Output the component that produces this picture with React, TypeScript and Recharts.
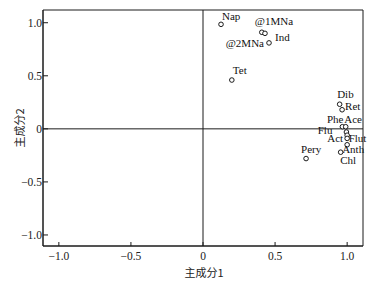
import React from 'react';
import { ScatterChart, Scatter, XAxis, YAxis, ReferenceLine, ReferenceArea, Label } from 'recharts';

// Variable names and loadings on the two principal components
const names = ['Nap', '@1MNa', '@2MNa', 'Ind', 'Tet', 'Dib', 'Ret', 'Phe', 'Ace', 'Flu', 'Act', 'Flut', 'Anth', 'Chl', 'Pery'];
const pc1 = [0.125, 0.408, 0.43, 0.458, 0.2, 0.948, 0.965, 0.967, 0.99, 0.995, 1.0, 1.0, 1.0, 0.955, 0.715];
const pc2 = [0.985, 0.91, 0.9, 0.81, 0.46, 0.232, 0.18, 0.02, 0.02, -0.03, -0.06, -0.09, -0.15, -0.22, -0.28];

// Axis ticks
const xTicks = [-1, -0.5, 0, 0.5, 1];
const yTicks = [-1, -0.5, 0, 0.5, 1];
const xTitle = '主成分1';
const yTitle = '主成分2';

// Label placement (dx, dy, anchor) relative to each point
const labelPlacement: [number, number, string][] = [
  [1, -4, 'start'],
  [-7, -7, 'start'],
  [-1, 14, 'end'],
  [6, -2, 'start'],
  [1, -6, 'start'],
  [-2.5, -6, 'start'],
  [3, 0, 'start'],
  [1, -4, 'end'],
  [-1.5, -4, 'start'],
  [-14, 1.5, 'end'],
  [-4, 7, 'end'],
  [1.5, 3.5, 'start'],
  [-5, 8.5, 'start'],
  [-0.5, 12, 'start'],
  [-5, -6, 'start'],
];

const data = names.map((n, i) => ({ name: n, x: pc1[i], y: pc2[i], idx: i }));

const serif = '"Liberation Serif", "Times New Roman", serif';
const cjk = '"Noto Sans CJK SC", sans-serif';
const ink = '#1a1a1a';

const fmt = (v: number) => (v === 0 ? '0' : v.toFixed(1).replace('-', '\u2212'));

const XTick = (props: any) => {
  const { x, y, payload } = props;
  return (
    <g>
      <line x1={x} y1={y} x2={x} y2={y - 4} stroke={ink} strokeWidth={1} />
      <text x={x} y={y + 14} textAnchor="middle" fontFamily={serif} fontSize={11.5} fill="#222">
        {fmt(payload.value)}
      </text>
    </g>
  );
};

const YTick = (props: any) => {
  const { x, y, payload } = props;
  return (
    <g>
      <line x1={x} y1={y} x2={x + 5} y2={y} stroke={ink} strokeWidth={1} />
      <text x={x - 1} y={y + 4} textAnchor="end" fontFamily={serif} fontSize={11.5} fill="#222">
        {fmt(payload.value)}
      </text>
    </g>
  );
};

const PointShape = (props: any) => {
  const { cx, cy, payload } = props;
  const [dx, dy, anchor] = labelPlacement[payload.idx];
  return (
    <g>
      <circle cx={cx} cy={cy} r={2.3} fill="#fff" stroke={ink} strokeWidth={1} />
      <text x={cx + dx} y={cy + dy} textAnchor={anchor as any} fontFamily={serif} fontSize={11} fill="#111">
        {payload.name}
      </text>
    </g>
  );
};

const XTitle = (props: any) => {
  const vb = props.viewBox;
  return (
    <text x={vb.x + vb.width / 2 + 1} y={vb.y + 31} textAnchor="middle" fontFamily={cjk} fontSize={11} fill="#222">
      {xTitle}
    </text>
  );
};

const YTitle = (props: any) => {
  const vb = props.viewBox;
  const cx = 19;
  const cy = vb.y + vb.height / 2;
  return (
    <text x={cx} y={cy} transform={`rotate(-90 ${cx} ${cy})`} textAnchor="middle" dominantBaseline="central" fontFamily={cjk} fontSize={11} fill="#222">
      {yTitle}
    </text>
  );
};

export default function App() {
  return (
    <div style={{ position: 'absolute', left: 0, top: 0, background: '#fff' }}>
      <ScatterChart width={377} height={285} margin={{ top: 10, right: 14, bottom: 0, left: 0 }}>
        <XAxis
          type="number"
          dataKey="x"
          domain={[-1.11, 1.11]}
          ticks={xTicks}
          height={39}
          tickLine={false}
          tickSize={0}
          tickMargin={0}
          tick={<XTick />}
          axisLine={{ stroke: ink, strokeWidth: 1 }}
        >
          <Label content={<XTitle />} />
        </XAxis>
        <YAxis
          type="number"
          dataKey="y"
          domain={[-1.104, 1.12]}
          ticks={yTicks}
          width={43}
          tickLine={false}
          tickSize={0}
          tickMargin={0}
          tick={<YTick />}
          axisLine={{ stroke: ink, strokeWidth: 1 }}
        >
          <Label content={<YTitle />} />
        </YAxis>
        <ReferenceArea x1={-1.11} x2={1.11} y1={-1.104} y2={1.12} fill="none" stroke={ink} strokeWidth={1} fillOpacity={0} />
        <ReferenceLine x={0} stroke={ink} strokeWidth={1} />
        <ReferenceLine y={0} stroke={ink} strokeWidth={1} />
        <Scatter data={data} shape={<PointShape />} isAnimationActive={false} />
      </ScatterChart>
    </div>
  );
}
